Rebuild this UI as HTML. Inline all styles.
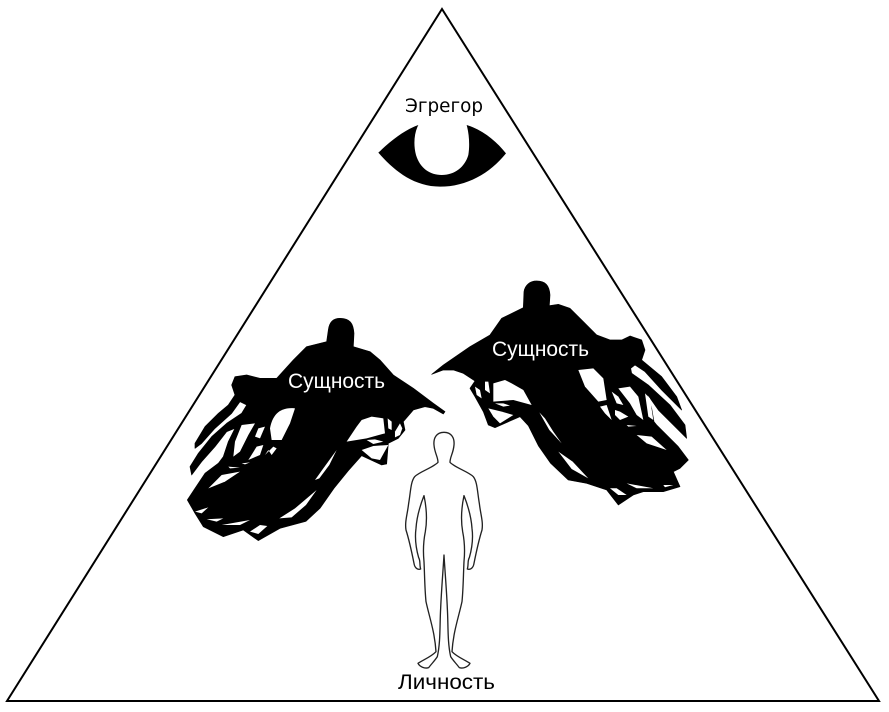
<!DOCTYPE html>
<html><head><meta charset="utf-8"><style>
html,body{margin:0;padding:0;background:#fff;width:889px;height:712px;overflow:hidden}
svg{display:block}
text{font-family:"Liberation Sans","DejaVu Sans",sans-serif;font-size:21px}
</style></head><body>
<svg width="889" height="712" viewBox="0 0 889 712" xmlns="http://www.w3.org/2000/svg">
<rect width="889" height="712" fill="#fff"/>
<polygon points="442,9 879,701 7,701" fill="none" stroke="#000" stroke-width="2"/>

<!-- Eye -->
<g transform="translate(370,90) scale(.3333)">
<path d="M25,188 C70,145 105,120 145,105 C132,130 130,165 138,195 C150,235 180,255 215,255 C255,255 285,230 295,195 C300,165 297,130 290,105 C340,120 380,155 408,190 C360,250 290,290 210,290 C130,290 70,240 25,188 Z" fill="#000"/>
</g>

<!-- Left figure -->
<g transform="translate(180,310) scale(.3333)">
<path fill="#000" stroke="#000" stroke-width="2" stroke-linejoin="round" d="M480,25 C510,25 520,40 522,70 L520,110 L570,125 L600,150 L640,195 L700,235 L760,280 L795,305 L790,312 L760,295 L735,290 L700,300 L670,335 L675,360 L655,385 L625,400 L620,462 L605,465 L545,437 L505,482 L462,535 L420,595 L378,634 L300,655 L235,692 L190,660 L130,680 L70,650 L45,610 L22,570 L45,535 L75,490 L115,460 L130,440 L145,395 L165,355 L140,365 L105,410 L65,455 L35,495 L30,470 L55,430 L95,380 L140,340 L185,310 L200,285 L180,275 L155,310 L105,355 L65,400 L45,415 L45,400 L75,350 L115,310 L145,285 L165,255 L155,225 L165,200 L200,195 L240,205 L290,205 L340,150 L380,110 L440,95 L445,60 C448,35 460,25 480,25 Z"/>
<g fill="#fff">
<path d="M500,395 L530,350 L545,330 L575,320 L610,325 L615,370 L560,385 Z"/>
<path d="M623,325 L635,335 L635,360 L625,355 Z"/>
<path d="M645,365 L660,340 L667,355 L660,375 L645,382 Z"/>
<path d="M560,390 L585,388 L610,395 L580,402 Z"/>
<path d="M545,420 L580,408 L625,405 L600,450 L575,445 Z"/>
<path d="M405,510 L430,475 L470,420 L448,465 L418,505 Z"/>
<path d="M298,625 L345,595 L410,540 L378,585 L335,622 Z"/>
<path d="M125,645 L210,630 L180,645 Z"/>
<path d="M210,665 L240,645 L262,648 L235,672 Z"/>
<path d="M80,628 L130,625 L110,635 Z"/>
<path d="M45,605 L85,592 L65,610 Z"/>
</g>
</g>
<g transform="translate(185,385) scale(.3333)" fill="#fff">
<path d="M255,130 C262,90 285,65 330,70 L315,115 L290,165 L260,165 Z"/>
<path d="M170,120 L210,115 L190,150 L165,200 L145,215 L150,170 Z"/>
<path d="M220,130 L240,125 L225,160 L210,155 Z"/>
<path d="M190,225 L215,185 L235,180 L225,210 Z"/>
<path d="M240,210 L265,185 L275,190 L260,210 L250,195 Z"/>
<path d="M130,245 L165,248 L135,250 Z"/>
<path d="M70,310 L110,270 L165,260 L120,290 Z"/>
<path d="M170,235 L195,232 L180,238 Z"/>
</g>

<!-- Right figure -->
<g transform="translate(430,275) scale(.3333)">
<path fill="#000" stroke="#000" stroke-width="2" stroke-linejoin="round" d="M320,18 C345,18 358,30 360,60 L358,92 L385,88 L420,100 L460,140 L500,180 L540,195 L575,195 L600,183 L635,195 L645,225 L635,255 L695,305 L740,365 L755,405 L695,345 L645,290 L615,270 L602,280 L605,295 L655,330 L720,390 L765,450 L770,490 L740,460 L685,405 L650,355 L665,400 L672,440 L680,450 L745,515 L775,555 L750,580 L730,590 L750,635 L700,650 L640,650 L610,660 L565,690 L530,645 L470,625 L415,615 L362,565 L325,512 L295,452 L270,425 L195,458 L175,450 L160,410 L135,365 L120,340 L135,318 L100,295 L70,285 L40,285 L5,298 L40,270 L120,215 L180,180 L215,130 L280,98 L282,50 C285,30 300,18 320,18 Z"/>
<g fill="#fff">
<path d="M445,285 L490,280 L520,310 L530,375 L505,380 L465,335 Z"/>
<path d="M190,325 L225,315 L245,325 L280,345 L305,390 L250,375 L190,380 Z"/>
<path d="M165,320 L175,320 L180,355 L165,345 Z"/>
<path d="M135,335 L150,345 L155,370 L140,360 Z"/>
<path d="M195,385 L220,385 L240,392 L220,395 Z"/>
<path d="M175,400 L215,410 L250,420 L210,445 L190,425 Z"/>
<path d="M328,412 L345,430 L370,470 L395,505 L358,465 Z"/>
<path d="M385,530 L428,560 L475,610 L425,582 Z"/>
<path d="M590,625 L670,640 L620,640 Z"/>
<path d="M540,640 L560,640 L590,660 L565,660 Z"/>
<path d="M700,630 L730,630 L705,637 Z"/>
</g>
</g>
<g transform="translate(590,340) scale(.3333)" fill="#fff">
<path d="M85,145 L120,140 L145,170 L160,240 L140,225 L120,190 Z"/>
<path d="M65,155 L85,170 L100,195 L80,190 Z"/>
<path d="M30,200 L50,195 L65,240 L45,220 Z"/>
<path d="M75,210 L90,215 L115,230 L90,240 L75,225 Z"/>
<path d="M110,255 L140,258 L115,260 Z"/>
<path d="M140,285 L185,290 L230,330 L170,310 Z"/>
<path d="M165,160 L180,175 L190,240 L175,230 Z"/>
</g>

<!-- Human -->
<g transform="translate(390,425) scale(.3333)">
<path fill="#fff" stroke="#222" stroke-width="4" stroke-linejoin="round" d="M162,22 C185,22 194,40 192,60 C190,85 180,95 180,112 C195,128 235,140 250,155 C262,170 262,200 268,235 C272,270 280,290 276,315 C265,350 258,385 252,415 C250,430 240,435 232,432 C236,420 232,408 238,398 C246,370 250,340 246,310 C244,280 235,245 222,212 C214,250 212,285 218,320 C224,350 225,380 222,410 C220,450 220,490 216,530 C205,580 190,620 186,680 C200,695 225,705 240,715 C235,725 220,732 208,728 C198,715 188,705 182,695 C172,650 175,600 172,550 C170,500 165,440 162,390 C159,440 154,500 152,550 C149,600 152,650 142,695 C136,705 126,715 116,728 C104,732 89,725 84,715 C99,705 124,695 138,680 C134,620 119,580 108,530 C104,490 104,450 102,410 C99,380 100,350 106,320 C112,285 110,250 102,212 C89,245 80,280 78,310 C74,340 78,370 86,398 C92,408 88,420 92,432 C84,435 74,430 72,415 C66,385 59,350 48,315 C44,290 52,270 56,235 C62,200 62,170 74,155 C89,140 129,128 144,112 C144,95 134,85 132,60 C130,40 139,22 162,22 Z"/>
</g>

<text x="405" y="112" fill="#000" textLength="78" lengthAdjust="spacingAndGlyphs" style="font-family:'DejaVu Sans',sans-serif;font-size:19px">Эгрегор</text>
<text x="288" y="388" fill="#fff" textLength="97" lengthAdjust="spacingAndGlyphs">Сущность</text>
<text x="492" y="356" fill="#fff" textLength="97" lengthAdjust="spacingAndGlyphs">Сущность</text>
<text x="398" y="689" fill="#000" textLength="97" lengthAdjust="spacingAndGlyphs">Личность</text>
</svg>
</body></html>
